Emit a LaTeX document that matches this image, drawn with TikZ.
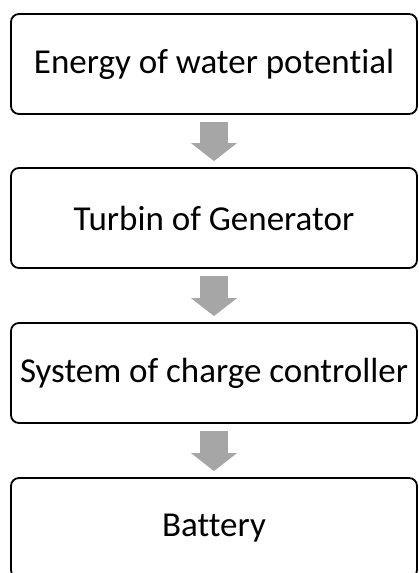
\documentclass[tikz,border=0pt]{standalone}
\usepackage{fontspec}
\setmainfont[Ligatures=NoCommon]{Carlito}
\usetikzlibrary{arrows.meta}

\begin{document}
\begin{tikzpicture}[x=1pt,y=-1pt]
              \tikzstyle{stage}=[draw=black, line width=1.8pt, rounded corners=8pt,
                minimum width=406pt, minimum height=100pt, inner sep=0pt,
                font=\fontsize{35}{42}\selectfont]
              \tikzstyle{flow}=[draw={rgb,255:red,166;green,166;blue,166}, line width=28pt,
                -{Triangle[width=45pt,length=18pt]}, shorten <=7pt, shorten >=6pt]
              \useasboundingbox (0,0) rectangle (419,573);
              \clip (0,0) rectangle (419,573);
              \node [stage] (energy) at (214,64) {Energy of water potential};
              \node [stage] (turbin) at (214,218) {Turbin of Generator};
              \node [stage] (control) at (214,373) {System of charge controller};
              \node [stage] (battery) at (214,528) {Battery};
              \draw [flow] (energy) -- (turbin);
              \draw [flow] (turbin) -- (control);
              \draw [flow] (control) -- (battery);
            \end{tikzpicture}
\end{document}
